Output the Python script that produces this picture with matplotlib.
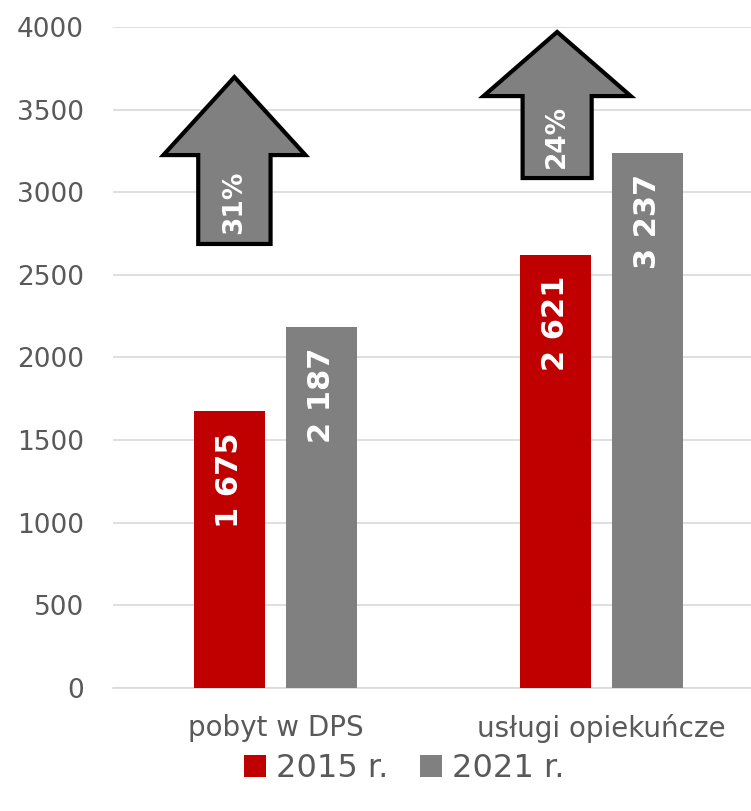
import numpy as np
import matplotlib.pyplot as plt
from matplotlib.patches import Polygon

# dane
kategorie = ['pobyt w DPS', 'usługi opiekuńcze']
lata = ['2015 r.', '2021 r.']
wartosci_2015 = [1675, 2621]
wartosci_2021 = [2187, 3237]
wzrost = ['31%', '24%']

kolory = ['#c00000', '#808080']
tekst = '#595959'

plt.rcParams['font.family'] = ['DejaVu Sans']

fig = plt.figure(figsize=(7.51, 8.11), dpi=100)
ax = fig.add_axes([0.1505, 0.1517, 0.8495, 0.815])

x = np.arange(len(kategorie))
w = 0.218
off = 0.1413

b1 = ax.bar(x - off, wartosci_2015, w, color=kolory[0], label=lata[0], zorder=3)
b2 = ax.bar(x + off, wartosci_2021, w, color=kolory[1], label=lata[1], zorder=3)

# etykiety w słupkach
for bars in (b1, b2):
    for b in bars:
        v = b.get_height()
        s = f'{v:,}'.replace(',', ' ')
        ax.annotate(s, (b.get_x() + b.get_width() / 2, v), xytext=(0, -15),
                    textcoords='offset points', rotation=90, ha='center', va='top',
                    color='white', fontsize=22, fontweight='bold', zorder=4)

# strzałki ze wzrostem
strzalki = [
    # środek, pół szerokości trzonu, pół szerokości grotu, dół, podstawa grotu, szczyt
    (-0.1275, 0.111, 0.218, 2687, 3225, 3697),
    (0.863, 0.106, 0.226, 3086, 3582, 3970),
]
for (cx, sw, hw, y0, yh, yt), t in zip(strzalki, wzrost):
    pts = [(cx - sw, y0), (cx + sw, y0), (cx + sw, yh), (cx + hw, yh),
           (cx, yt), (cx - hw, yh), (cx - sw, yh)]
    ax.add_patch(Polygon(pts, closed=True, facecolor='#808080', edgecolor='black',
                         lw=3, joinstyle='miter', zorder=5))
    ax.text(cx, y0 + 62, t, rotation=90, ha='center', va='bottom', color='white',
            fontsize=19, fontweight='bold', zorder=6)

ax.set_ylim(0, 4000)
ax.set_xlim(-0.5, 1.458)
ax.set_yticks(np.arange(0, 4001, 500))
ax.set_xticks(x)
ax.set_xticklabels(kategorie)
ax.yaxis.grid(True, color='#d9d9d9', lw=1.2, zorder=0)
ax.set_axisbelow(True)
for s in ['top', 'right', 'left']:
    ax.spines[s].set_visible(False)
ax.spines['bottom'].set_color('#d9d9d9')
ax.spines['bottom'].set_linewidth(1.2)
ax.tick_params(axis='y', length=0, labelsize=19, labelcolor=tekst, pad=21)
ax.tick_params(axis='x', length=0, labelsize=20, labelcolor=tekst, pad=19)

fig.legend(loc='center', bbox_to_anchor=(0.538, 0.052), ncol=2, frameon=False,
           fontsize=23, labelcolor=tekst, handlelength=0.7, handleheight=0.7,
           handletextpad=0.3, columnspacing=1.0)

fig.savefig('out.png', dpi=100)
